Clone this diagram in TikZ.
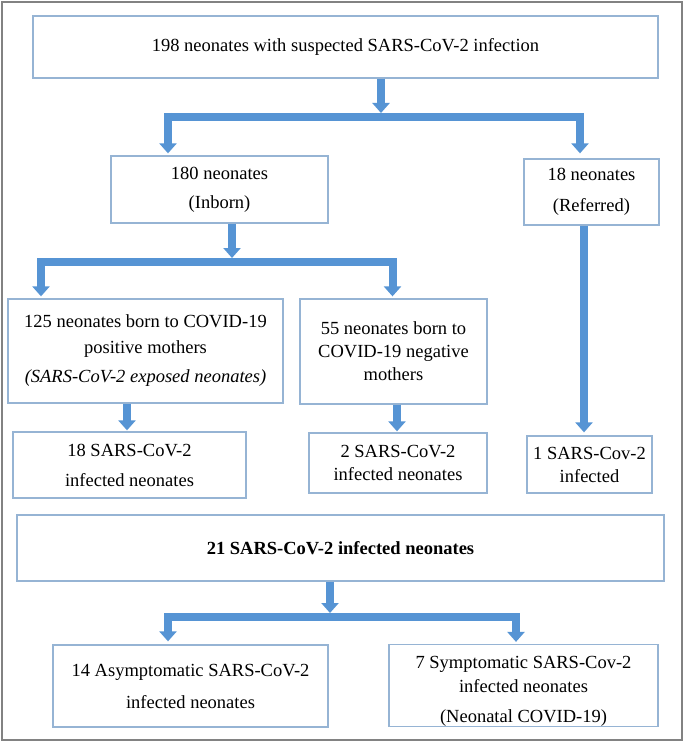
\documentclass[tikz,border=0pt]{standalone}
\usepackage{fontspec}
\setmainfont{Liberation Serif}
\usetikzlibrary{arrows.meta}
\definecolor{arrblue}{RGB}{86,148,212}
\definecolor{boxline}{RGB}{150,180,212}
\definecolor{framegray}{RGB}{130,130,130}
\tikzset{
  box/.style={draw=boxline, line width=1.3pt, fill=white, align=center, inner sep=0pt,
    font=\fontsize{18.5}{23}\selectfont},
  arr/.style={draw=arrblue, line width=8pt, line cap=butt,
    -{Triangle[width=17pt,length=10pt]}},
  bar/.style={draw=arrblue, line width=8pt, line cap=butt},
}
\newcommand{\bx}[6]{%
  \pgfmathsetmacro{\bxw}{#4-#2}\pgfmathsetmacro{\bxh}{#5-#3}%
  \pgfmathsetmacro{\bxcx}{(#2+#4)/2}\pgfmathsetmacro{\bxcy}{(#3+#5)/2}%
  \node[box, minimum width=\bxw pt, minimum height=\bxh pt] (#1) at (\bxcx,\bxcy) {#6};}
\begin{document}
\begin{tikzpicture}[x=1pt,y=-1pt]
\useasboundingbox (0,0) rectangle (685,743);
\fill[white] (0,0) rectangle (685,743);
\draw[framegray, line width=1.5pt] (2,2) rectangle (682,740);

\bx{b1}{33}{16}{658}{78}{198 neonates with suspected SARS-CoV-2 infection}
\bx{b2}{111}{156}{328}{223}{180 neonates\\[6pt](Inborn)}
\bx{b3}{524}{159}{659}{225}{18 neonates\\[8pt](Referred)}
\bx{b4}{8}{299}{283}{403}{125 neonates born to COVID-19\\[3pt]positive mothers\\[6pt]\textit{(SARS-CoV-2 exposed neonates)}}
\bx{b5}{300}{299}{487}{404}{55 neonates born to\\COVID-19 negative\\mothers}
\bx{b6}{13}{432}{246}{498}{18 SARS-CoV-2\\[7pt]infected neonates}
\bx{b7}{309}{433}{487}{493}{2 SARS-CoV-2\\infected neonates}
\bx{b8}{527}{436}{652}{493}{1 SARS-Cov-2\\infected}
\bx{b9}{17}{515}{664}{581}{\textbf{21 SARS-CoV-2 infected neonates}}
\bx{b10}{53}{645}{328}{727}{14 Asymptomatic SARS-CoV-2\\[9pt]infected neonates}
\bx{b11}{389}{645}{658}{726}{\rule{0pt}{24pt}7 Symptomatic SARS-Cov-2\\[1pt]infected neonates\\[7pt](Neonatal COVID-19)}

% junction coordinates
\coordinate (l1) at (168,117);
\coordinate (r1) at (580,117);
\coordinate (j1) at (381,117);
\coordinate (l2) at (41,262);
\coordinate (r2) at (392.5,262);
\coordinate (j2) at (232,262);
\coordinate (l3) at (168,617);
\coordinate (r3) at (516,617);
\coordinate (j3) at (330,617);

% level 1
\draw[bar] ([xshift=-4pt]l1) -- ([xshift=4pt]r1);
\draw[arr, shorten >=4pt] (b1.south -| j1) -- (j1);
\draw[arr, shorten >=2pt] ([yshift=4pt]l1) -- (l1 |- b2.north);
\draw[arr, shorten >=5pt] ([yshift=4pt]r1) -- (r1 |- b3.north);

% level 2
\draw[bar] ([xshift=-4pt]l2) -- ([xshift=4.5pt]r2);
\draw[arr, shorten >=4pt] (b2.south -| j2) -- (j2);
\draw[arr, shorten >=2pt] ([yshift=4pt]l2) -- (l2 |- b4.north);
\draw[arr, shorten >=2pt] ([yshift=4pt]r2) -- (r2 |- b5.north);

% to infected counts
\draw[arr, shorten >=1pt] ([xshift=-18.5pt]b4.south) -- ([xshift=-18.5pt]b4.south |- b6.north);
\draw[arr, shorten >=1pt] ([xshift=3.5pt]b5.south) -- ([xshift=3.5pt]b5.south |- b7.north);
\draw[arr, shorten >=3pt] ([xshift=-7.5pt]b3.south) -- ([xshift=-7.5pt]b3.south |- b8.north);

% level 3
\draw[bar] ([xshift=-4pt]l3) -- ([xshift=4pt]r3);
\draw[arr, shorten >=4pt] (b9.south -| j3) -- (j3);
\draw[arr, shorten >=3pt] ([yshift=4pt]l3) -- (l3 |- b10.north);
\draw[arr, shorten >=2pt] ([yshift=4pt]r3) -- (r3 |- b11.north);
\end{tikzpicture}
\end{document}
